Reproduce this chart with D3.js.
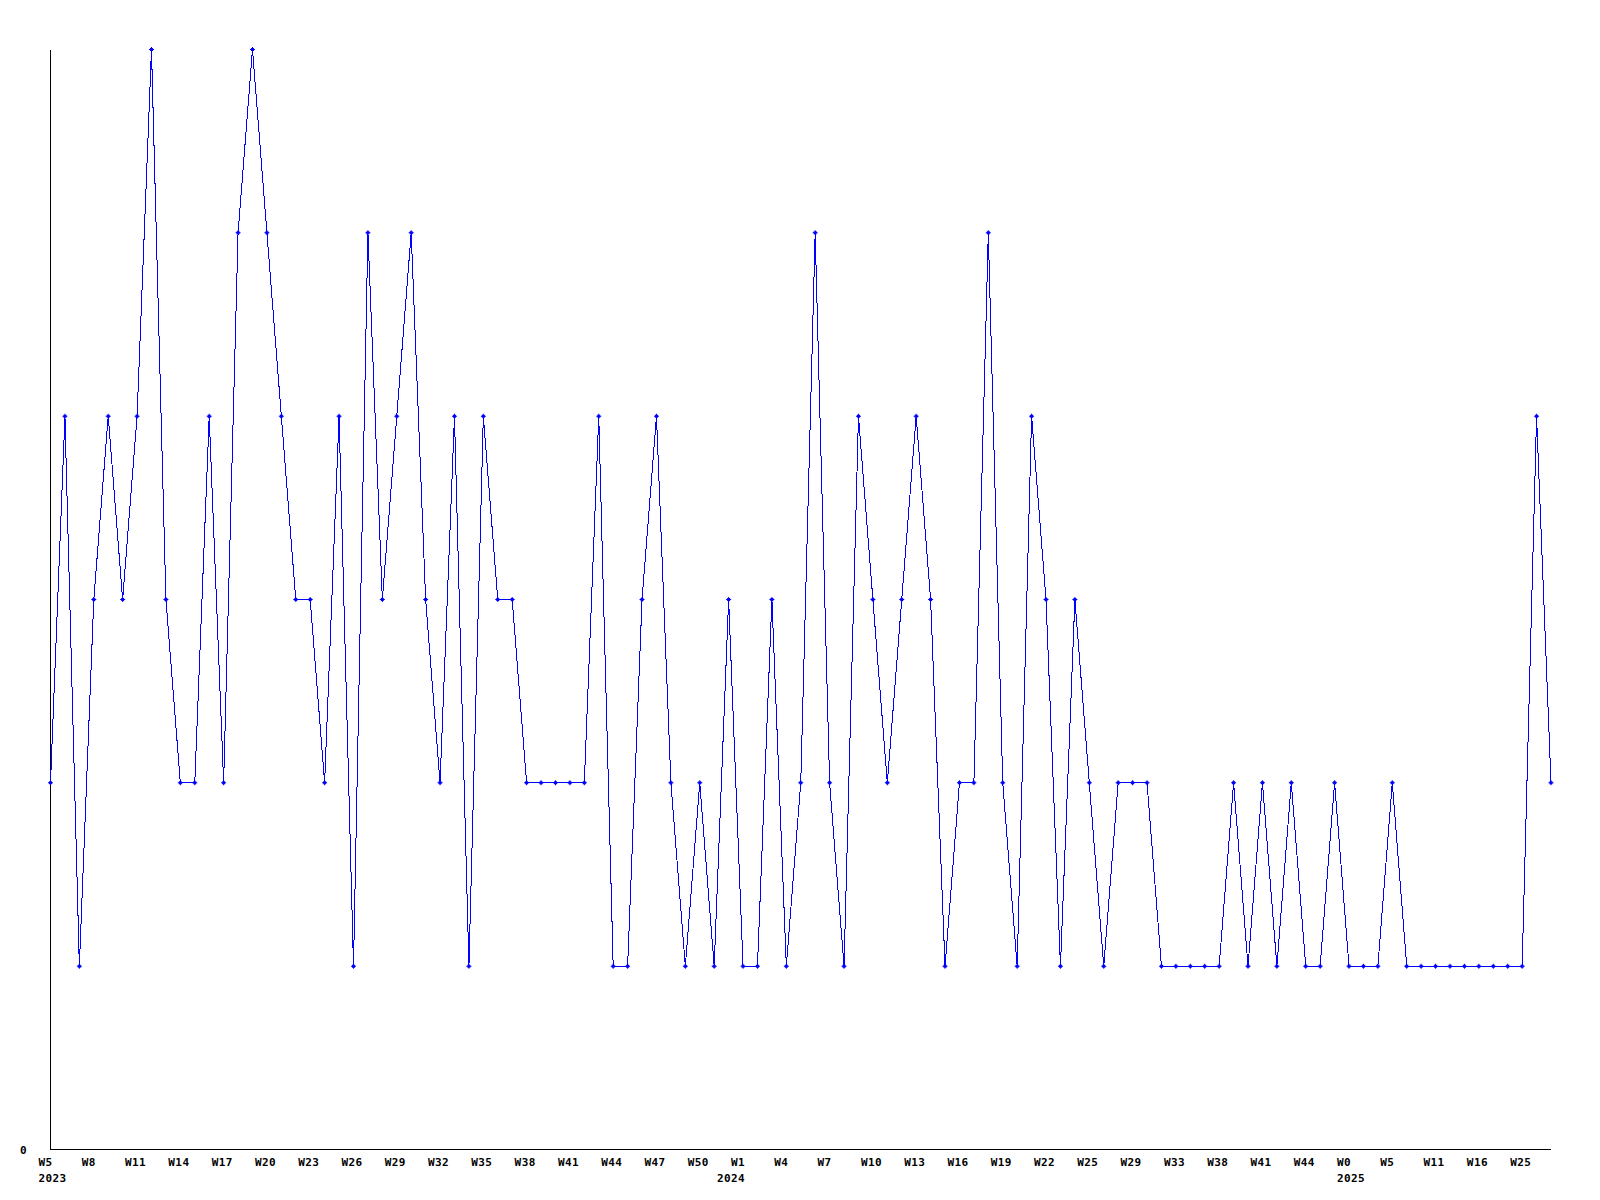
<!DOCTYPE html>
<html>
<head>
<meta charset="utf-8">
<script src="https://cdn.jsdelivr.net/npm/d3@7"></script>
<style>
  html, body { margin: 0; padding: 0; background: #fff; }
  svg { display: block; }
  text { font-family: "DejaVu Sans Mono", "Liberation Mono", monospace; font-weight: bold; font-size: 11px; letter-spacing: 0.4px; fill: #000; }
</style>
</head>
<body>
<svg id="chart" width="1600" height="1200"></svg>
<script>
// ---- data ----
const values = [
  2,4,1,3,4,3,4,6,3,2,
  2,4,2,5,6,5,4,3,3,2,
  4,1,5,3,4,5,3,2,4,1,
  4,3,3,2,2,2,2,2,4,1,
  1,3,4,2,1,2,1,3,1,1,
  3,1,2,5,2,1,4,3,2,3,
  4,3,1,2,2,5,2,1,4,3,
  1,3,2,1,2,2,2,1,1,1,
  1,1,2,1,2,1,2,1,1,2,
  1,1,1,2,1,1,1,1,1,1,
  1,1,1,4,2
];
const categories = d3.range(values.length); // one entry per weekly data point
const tickStep = 3;                           // a label on every third point
const tickLabels = [
  "W5","W8","W11","W14","W17","W20","W23","W26","W29","W32","W35","W38",
  "W41","W44","W47","W50","W1","W4","W7","W10","W13","W16","W19","W22",
  "W25","W29","W33","W38","W41","W44","W0","W5","W11","W16","W25"
];
const yearLabels = [
  { at: 0,  text: "2023", align: "start" },
  { at: 48, text: "2024", align: "end" },
  { at: 90, text: "2025", align: "start" }
];
const yTickLabels = [0];
const yMax = 6;

// ---- layout ----
(function () {
const svg = d3.select("#chart");
const mLeft = 50.5, mRight = 1551, mTop = 49.5, mBottom = 1149.5;
const blue = "#0000ff";

const x = d3.scalePoint().domain(categories).range([mLeft, mRight]);
const y = d3.scaleLinear().domain([0, yMax]).range([mBottom, mTop]);

// axes lines
svg.append("line").attr("x1", mLeft).attr("x2", mLeft).attr("y1", mTop).attr("y2", mBottom)
  .attr("stroke", "#000").attr("stroke-width", 1).attr("shape-rendering", "crispEdges");
svg.append("line").attr("x1", mLeft).attr("x2", mRight).attr("y1", mBottom).attr("y2", mBottom)
  .attr("stroke", "#000").attr("stroke-width", 1).attr("shape-rendering", "crispEdges");

// y labels
svg.selectAll("text.ylab").data(yTickLabels).join("text")
  .attr("class", "ylab")
  .attr("x", 27).attr("y", d => y(d) + 4)
  .attr("text-anchor", "end")
  .text(d => d);

// x labels
svg.selectAll("text.xlab").data(tickLabels).join("text")
  .attr("class", "xlab")
  .attr("x", (d, i) => x(categories[i * tickStep]) - 12)
  .attr("y", mBottom + 16)
  .text(d => d);

svg.selectAll("text.yr").data(yearLabels).join("text")
  .attr("class", "yr")
  .attr("x", d => x(categories[d.at]) + (d.align === "end" ? 2 : -12))
  .attr("y", mBottom + 32)
  .attr("text-anchor", d => d.align)
  .text(d => d.text);

// line
const line = d3.line().x((d, i) => x(categories[i])).y(d => y(d));
svg.append("path").datum(values)
  .attr("d", line)
  .attr("fill", "none")
  .attr("stroke", blue)
  .attr("stroke-width", 1)
  .attr("shape-rendering", "crispEdges");

// markers (small plus)
const marker = "M-2.5,-0.5h5v1h-5z M-0.5,-2.5h1v5h-1z M-1.5,-1.5h3v3h-3z";
svg.selectAll("path.pt").data(values).join("path")
  .attr("class", "pt")
  .attr("d", marker)
  .attr("transform", (d, i) => `translate(${x(categories[i])},${y(d)})`)
  .attr("fill", blue);
})();
</script>
</body>
</html>
